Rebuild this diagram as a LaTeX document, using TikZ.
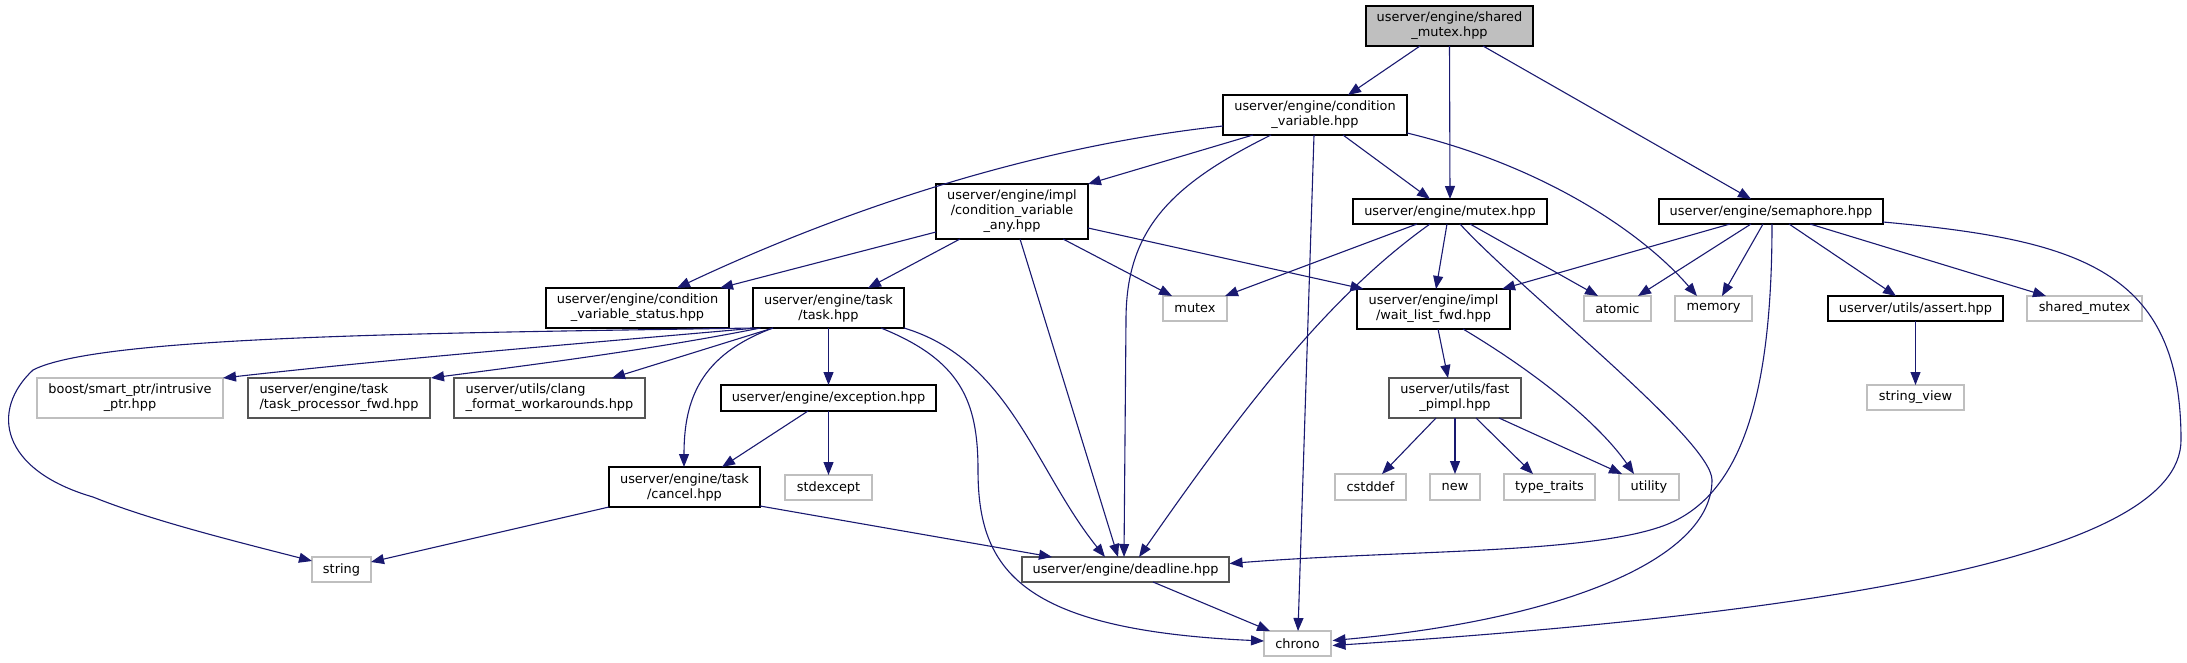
\documentclass[tikz,border=0pt]{standalone}
\usepackage{fontspec}
\setmainfont{DejaVu Sans}
\usetikzlibrary{arrows.meta,calc}
\definecolor{edgeblue}{HTML}{191970}
\definecolor{extgrey}{HTML}{BFBFBF}
\definecolor{rootfill}{HTML}{BFBFBF}
\definecolor{undocgrey}{HTML}{555555}
\begin{document}
\begin{tikzpicture}[x=1pt,y=-1pt,
  every node/.style={font=\fontsize{12.9pt}{15pt}\selectfont, inner sep=0pt, outer sep=0pt, align=center, rectangle},
  sz/.style 2 args={minimum width=#1pt, minimum height=#2pt},
  docbox/.style={draw=black, line width=1.3pt, fill=white},
  undocbox/.style={draw=undocgrey, line width=1.3pt, fill=white},
  extbox/.style={draw=extgrey, line width=1.3pt, fill=white},
  e/.style={draw=edgeblue, line width=1.1pt, -{Triangle[length=13pt,width=10pt,fill=edgeblue]}}]
\useasboundingbox (0,0) rectangle (2187,663);

% nodes
\node[docbox, fill=rootfill, sz={167}{40}] (root) at (1449.5,26) {userver/engine/shared\\\_mutex.hpp};
\node[docbox, sz={184}{40}] (condvar) at (1315,115) {userver/engine/condition\\\_variable.hpp};
\node[docbox, sz={152}{55}] (cvany) at (1012,211.5) {userver/engine/impl\\/condition\_variable\\\_any.hpp};
\node[docbox, sz={194}{25}] (mutex) at (1450,211.5) {userver/engine/mutex.hpp};
\node[docbox, sz={224}{25}] (semaphore) at (1771,211.5) {userver/engine/semaphore.hpp};
\node[docbox, sz={183}{40}] (cvstatus) at (637.5,308) {userver/engine/condition\\\_variable\_status.hpp};
\node[docbox, sz={151}{40}] (task) at (828.5,308) {userver/engine/task\\/task.hpp};
\node[extbox, sz={64}{25}] (mutexstd) at (1195,308.5) {mutex};
\node[docbox, sz={153}{40}] (waitlist) at (1433.5,309) {userver/engine/impl\\/wait\_list\_fwd.hpp};
\node[extbox, sz={67}{25}] (atomic) at (1617.5,308.5) {atomic};
\node[extbox, sz={77}{25}] (memory) at (1713.5,308.5) {memory};
\node[docbox, sz={175}{25}] (assert) at (1915.5,308.5) {userver/utils/assert.hpp};
\node[extbox, sz={115}{25}] (sharedmutex) at (2084.5,308.5) {shared\_mutex};
\node[extbox, sz={186}{40}] (boost) at (130,398) {boost/smart\_ptr/intrusive\\\_ptr.hpp};
\node[undocbox, sz={182}{40}, align=left] (taskproc) at (339,398) {userver/engine/task\\/task\_processor\_fwd.hpp};
\node[undocbox, sz={191}{40}, align=left] (clang) at (549.5,398) {userver/utils/clang\\\_format\_workarounds.hpp};
\node[docbox, sz={215}{26}] (exception) at (828.5,398) {userver/engine/exception.hpp};
\node[undocbox, sz={132}{40}] (fastpimpl) at (1455,398) {userver/utils/fast\\\_pimpl.hpp};
\node[extbox, sz={97}{25}] (stringview) at (1915.5,397.5) {string\_view};
\node[docbox, sz={151}{40}] (cancel) at (684.5,487) {userver/engine/task\\/cancel.hpp};
\node[extbox, sz={87}{25}] (stdexcept) at (828.5,487.5) {stdexcept};
\node[extbox, sz={71}{26}] (cstddef) at (1370.5,487) {cstddef};
\node[extbox, sz={50}{26}] (new) at (1455,487) {new};
\node[extbox, sz={91}{26}] (typetraits) at (1549.5,487) {type\_traits};
\node[extbox, sz={60}{26}] (utility) at (1649,487) {utility};
\node[extbox, sz={59}{25}] (string) at (341.5,569.5) {string};
\node[undocbox, sz={207}{25}] (deadline) at (1125.5,569.5) {userver/engine/deadline.hpp};
\node[extbox, sz={67}{25}] (chrono) at (1297.5,643.5) {chrono};

% edges from root
\draw[e] ($(root)+(-29.5,20)$) -- ($(condvar)+(33,-20)$);
\draw[e] (root.south) -- (mutex.north);
\draw[e] ($(root)+(33.5,20)$) -- ($(semaphore)+(-20,-12.5)$);

% edges from condition_variable
\draw[e] ($(condvar)+(-92,11)$) .. controls (1000,150) and (800,230) .. ($(cvstatus)+(39.5,-20)$);
\draw[e] ($(condvar)+(-62,20)$) -- ($(cvany)+(76,-27.5)$);
\draw[e] ($(condvar)+(-44,20)$) .. controls (1170,185) and (1126,230) .. (1126,320) -- ($(deadline)+(-1.5,-12.5)$);
\draw[e] ($(condvar)+(-1,20)$) -- ($(chrono)+(0.5,-12.5)$);
\draw[e] ($(condvar)+(28,20)$) -- ($(mutex)+(-20,-12.5)$);
\draw[e] ($(condvar)+(92,18)$) .. controls (1540,165) and (1640,230) .. ($(memory)+(-16.5,-12.5)$);

% edges from condition_variable_any
\draw[e] ($(cvany)+(-76,20.5)$) -- ($(cvstatus)+(82.5,-20)$);
\draw[e] ($(cvany)+(-52,27.5)$) -- ($(task)+(39.5,-20)$);
\draw[e] ($(cvany)+(8,27.5)$) -- ($(deadline)+(-7.5,-12.5)$);
\draw[e] ($(cvany)+(51,27.5)$) -- ($(mutexstd)+(-23,-12.5)$);
\draw[e] ($(cvany)+(76,16.5)$) -- ($(waitlist)+(-70,-20)$);

% edges from mutex
\draw[e] ($(mutex)+(-33,12.5)$) -- ($(mutexstd)+(30,-12.5)$);
\draw[e] ($(mutex)+(-20,12.5)$) .. controls (1330,295) and (1245,405) .. ($(deadline)+(13.5,-12.5)$);
\draw[e] ($(mutex)+(-3,12.5)$) -- ($(waitlist)+(2.5,-20)$);
\draw[e] ($(mutex)+(20,12.5)$) -- ($(atomic)+(-19.5,-12.5)$);
\draw[e] ($(mutex)+(10,12.5)$) .. controls (1520,290) and (1712,440) .. (1712,480)
  .. controls (1712,560) and (1560,620) .. ($(chrono)+(35,-3)$);

% edges from semaphore
\draw[e] ($(semaphore)+(-41,12.5)$) -- ($(waitlist)+(68.5,-20)$);
\draw[e] ($(semaphore)+(-20,12.5)$) -- ($(atomic)+(20.5,-12.5)$);
\draw[e] ($(semaphore)+(-8,12.5)$) -- ($(memory)+(8.5,-12.5)$);
\draw[e] ($(semaphore)+(1,12.5)$) .. controls (1772,400) and (1740,500) .. (1660,527)
  .. controls (1580,554) and (1400,550) .. ($(deadline)+(104,-6)$);
\draw[e] ($(semaphore)+(18,12.5)$) -- ($(assert)+(-19.5,-12.5)$);
\draw[e] ($(semaphore)+(39,12.5)$) -- ($(sharedmutex)+(-38.5,-12.5)$);
\draw[e] ($(semaphore)+(112,10.5)$) .. controls (2080,240) and (2181,270) .. (2181,440)
  .. controls (2181,560) and (1800,615) .. ($(chrono)+(35,2)$);

% edges from task
\draw[e] ($(task)+(-75.5,20)$) .. controls (450,333) and (100,335) .. (33,370)
  .. controls (-10,410) and (0,470) .. (93,497)
  .. controls (150,520) and (230,540) .. ($(string)+(-29.5,-8.5)$);
\draw[e] ($(task)+(-72,20)$) .. controls (600,342) and (400,358) .. ($(boost)+(93,-20)$);
\draw[e] ($(task)+(-68,20)$) .. controls (650,350) and (530,365) .. ($(taskproc)+(92,-20)$);
\draw[e] ($(task)+(-55.5,20)$) -- ($(clang)+(62.5,-20)$);
\draw[e] ($(task)+(-55.5,20)$) .. controls (700,355) and (684,400) .. ($(cancel)+(-0.5,-20)$);
\draw[e] (task.south) -- (exception.north);
\draw[e] ($(task)+(75.5,20)$) .. controls (1010,360) and (1035,470) .. ($(deadline)+(-20.5,-12.5)$);
\draw[e] ($(task)+(52.5,20)$) .. controls (960,360) and (978,400) .. (978,470)
  .. controls (978,570) and (1020,630) .. ($(chrono)+(-33.5,-2.5)$);

% other edges
\draw[e] ($(exception)+(-20.5,13)$) -- ($(cancel)+(37.5,-20)$);
\draw[e] (exception.south) -- (stdexcept.north);
\draw[e] ($(cancel)+(-75.5,20)$) -- ($(string)+(29.5,-7.5)$);
\draw[e] ($(cancel)+(75.5,19)$) -- ($(deadline)+(-73.5,-12.5)$);
\draw[e] ($(waitlist)+(4.5,20)$) -- ($(fastpimpl)+(-7,-20)$);
\draw[e] ($(waitlist)+(29.5,20)$) .. controls (1540,375) and (1600,425) .. ($(utility)+(-15,-13)$);
\draw[e] ($(fastpimpl)+(-19,20)$) -- ($(cstddef)+(11.5,-13)$);
\draw[e] (fastpimpl.south) -- (new.north);
\draw[e] ($(fastpimpl)+(21,20)$) -- ($(typetraits)+(-16.5,-13)$);
\draw[e] ($(fastpimpl)+(44,20)$) -- ($(utility)+(-27,-13)$);
\draw[e] (assert.south) -- (stringview.north);
\draw[e] ($(deadline)+(27.5,12.5)$) -- ($(chrono)+(-27.5,-12.5)$);
\end{tikzpicture}
\end{document}
